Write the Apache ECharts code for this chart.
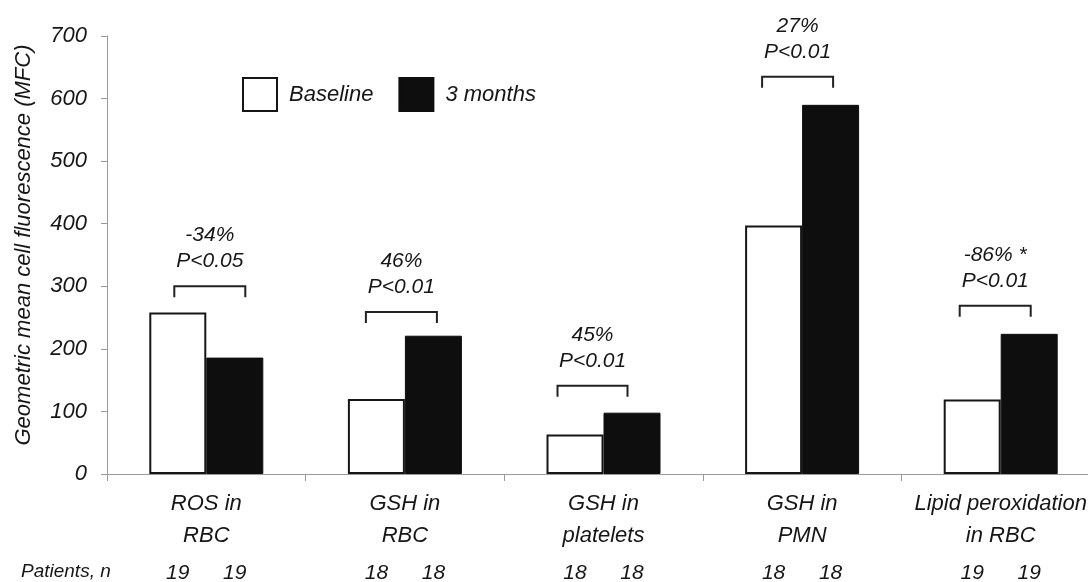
<!DOCTYPE html>
<html>
<head>
<meta charset="utf-8">
<script src="https://cdn.jsdelivr.net/npm/echarts@6/dist/echarts.min.js"></script>
<style>
html,body{margin:0;padding:0;background:#fff;overflow:hidden;width:1088px;height:582px;}
#chart{width:1100px;height:582px;}
</style>
</head>
<body>
<div id="chart"></div>
<script>
// ---- data ----
const categories = ['ROS in\nRBC', 'GSH in\nRBC', 'GSH in\nplatelets', 'GSH in\nPMN', 'Lipid peroxidation\nin RBC'];
const baseline = [258, 120, 63, 397, 119];
const threeMonths = [186, 221, 98, 590, 224];
const patientsBaseline = [19, 18, 18, 18, 19];
const patientsThreeMonths = [19, 18, 18, 18, 19];
const changeLabels = ['-34%', '46%', '45%', '27%', '-86% *'];
const pLabels = ['P<0.05', 'P<0.01', 'P<0.01', 'P<0.01', 'P<0.01'];
const bracketLevels = [300, 259, 141, 635, 269];
const yTicks = [0, 100, 200, 300, 400, 500, 600, 700];

// ---- layout constants (pixels) ----
const bracketDx = [[-32, 39], [-39, 32], [-46, 24], [-40, 31], [-41, 30]];
const FONT = '"Liberation Sans", Arial, sans-serif';
const INK = '#161616';

const chart = echarts.init(document.getElementById('chart'), null, {renderer: 'canvas'});

const annData = bracketLevels.map((v, i) => [i, v]);

const option = {
  backgroundColor: '#ffffff',
  animation: false,
  textStyle: {fontFamily: FONT, fontStyle: 'italic', color: INK},
  grid: {left: 107, right: 0, top: 36, bottom: 108, containLabel: false},
  legend: {
    left: 237, top: 72,
    itemWidth: 34, itemHeight: 33, itemGap: 25,
    icon: 'rect',
    data: ['Baseline', '3 months'],
    textStyle: {fontFamily: FONT, fontStyle: 'italic', fontSize: 22, color: INK, padding: [0, 0, 0, 7]}
  },
  xAxis: {
    type: 'category',
    data: categories,
    axisLine: {lineStyle: {color: '#9a9a9a', width: 1}},
    axisTick: {show: true, length: 7, lineStyle: {color: '#9a9a9a'}},
    axisLabel: {
      interval: 0, margin: 14,
      fontFamily: FONT, fontStyle: 'italic', fontSize: 22, lineHeight: 32, color: INK
    }
  },
  yAxis: {
    type: 'value',
    min: 0, max: 700, interval: 100,
    name: 'Geometric mean cell fluorescence (MFC)',
    nameLocation: 'middle', nameRotate: 90, nameGap: 72,
    nameTextStyle: {fontFamily: FONT, fontStyle: 'italic', fontSize: 22, color: INK, padding: [0, 0, 0, 20]},
    axisLine: {show: true, lineStyle: {color: '#9a9a9a', width: 1}},
    axisTick: {show: true, length: 6, lineStyle: {color: '#9a9a9a'}},
    splitLine: {show: false},
    axisLabel: {
      margin: 20, fontFamily: FONT, fontStyle: 'italic', fontSize: 22, color: INK,
      formatter: v => (yTicks.indexOf(v) >= 0 ? String(v) : '')
    }
  },
  graphic: [{
    type: 'text', left: 21, top: 562,
    style: {text: 'Patients, n', font: 'italic 19px ' + FONT, fill: INK}
  }],
  series: [
    {
      name: 'Baseline', type: 'bar', data: baseline,
      barWidth: 57, barGap: '0%',
      itemStyle: {color: '#ffffff', borderColor: INK, borderWidth: 2},
      label: {
        show: true, position: 'bottom', distance: 89,
        fontFamily: FONT, fontStyle: 'italic', fontSize: 21, color: INK,
        formatter: p => String(patientsBaseline[p.dataIndex])
      }
    },
    {
      name: '3 months', type: 'bar', data: threeMonths,
      barWidth: 57, barGap: '0%',
      itemStyle: {color: '#0e0e0e', borderColor: '#0e0e0e', borderWidth: 1},
      label: {
        show: true, position: 'bottom', distance: 89,
        fontFamily: FONT, fontStyle: 'italic', fontSize: 21, color: INK,
        formatter: p => String(patientsThreeMonths[p.dataIndex])
      }
    },
    {
      type: 'custom',
      data: annData,
      encode: {x: 0, y: 1},
      silent: true,
      z: 5,
      renderItem: function (params, api) {
        const i = params.dataIndex;
        const p = api.coord([api.value(0), api.value(1)]);
        const x1 = p[0] + bracketDx[i][0];
        const x2 = p[0] + bracketDx[i][1];
        const y = p[1];
        const cx = (x1 + x2) / 2;
        return {
          type: 'group',
          children: [
            {type: 'polyline', shape: {points: [[x1, y + 11], [x1, y], [x2, y], [x2, y + 11]]},
             style: {stroke: '#222', lineWidth: 2, fill: null}},
            {type: 'text', x: cx, y: y - 51,
             style: {text: changeLabels[i], font: 'italic 21px ' + FONT, fill: INK, textAlign: 'center', textVerticalAlign: 'middle'}},
            {type: 'text', x: cx, y: y - 25,
             style: {text: pLabels[i], font: 'italic 21px ' + FONT, fill: INK, textAlign: 'center', textVerticalAlign: 'middle'}}
          ]
        };
      }
    }
  ]
};

chart.setOption(option);
</script>
</body>
</html>
